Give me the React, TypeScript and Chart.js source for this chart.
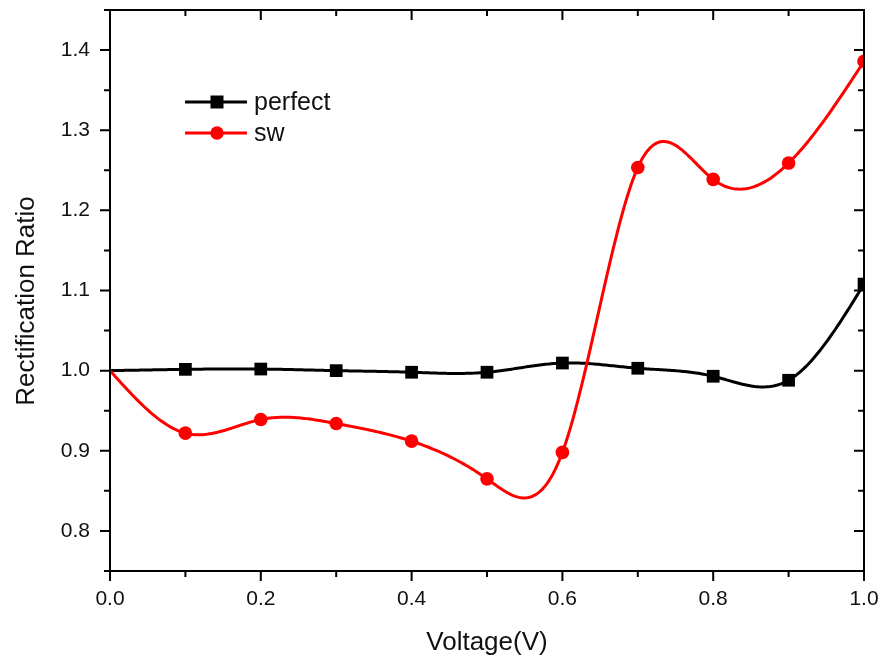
import React, { useEffect, useRef } from "react";
import { Chart, registerables } from "chart.js";
Chart.register(...registerables);

const voltage = [0, 0.1, 0.2, 0.3, 0.4, 0.5, 0.6, 0.7, 0.8, 0.9, 1.0];
const perfect = [1.0, 1.0016, 1.002, 1.0, 0.998, 0.998, 1.0095, 1.003, 0.993, 0.988, 1.108];
const sw = [1.0, 0.922, 0.939, 0.934, 0.912, 0.865, 0.898, 1.2535, 1.2386, 1.259, 1.386];

const xMajorTicks = [0, 0.2, 0.4, 0.6, 0.8, 1.0];
const xMinorTicks = [0.1, 0.3, 0.5, 0.7, 0.9];
const yMajorTicks = [0.8, 0.9, 1.0, 1.1, 1.2, 1.3, 1.4];
const yMinorTicks = [0.75, 0.85, 0.95, 1.05, 1.15, 1.25, 1.35, 1.45];

const seriesNames = ["perfect", "sw"];
const seriesColors = ["#000000", "#ff0000"];
const xTitle = "Voltage(V)";
const yTitle = "Rectification Ratio";
const FONT = "'Liberation Sans', Arial, sans-serif";

function naturalSpline(xs: number[], ys: number[]) {
  const n = xs.length;
  const h: number[] = [];
  for (let i = 0; i < n - 1; i++) h.push(xs[i + 1] - xs[i]);
  const a: number[] = new Array(n).fill(0);
  const b: number[] = new Array(n).fill(0);
  const c: number[] = new Array(n).fill(0);
  const d: number[] = new Array(n).fill(0);
  b[0] = 1; b[n - 1] = 1;
  for (let i = 1; i < n - 1; i++) {
    a[i] = h[i - 1];
    b[i] = 2 * (h[i - 1] + h[i]);
    c[i] = h[i];
    d[i] = 6 * ((ys[i + 1] - ys[i]) / h[i] - (ys[i] - ys[i - 1]) / h[i - 1]);
  }
  const cp = new Array(n).fill(0);
  const dp = new Array(n).fill(0);
  cp[0] = c[0] / b[0];
  dp[0] = d[0] / b[0];
  for (let i = 1; i < n; i++) {
    const m = b[i] - a[i] * cp[i - 1];
    cp[i] = c[i] / m;
    dp[i] = (d[i] - a[i] * dp[i - 1]) / m;
  }
  const M = new Array(n).fill(0);
  M[n - 1] = dp[n - 1];
  for (let i = n - 2; i >= 0; i--) M[i] = dp[i] - cp[i] * M[i + 1];
  return (x: number) => {
    let i = 0;
    while (i < n - 2 && x > xs[i + 1]) i++;
    const hi = h[i];
    const A = xs[i + 1] - x;
    const B = x - xs[i];
    return (
      (M[i] * A * A * A) / (6 * hi) +
      (M[i + 1] * B * B * B) / (6 * hi) +
      (ys[i] / hi - (M[i] * hi) / 6) * A +
      (ys[i + 1] / hi - (M[i + 1] * hi) / 6) * B
    );
  };
}

const splinePlugin = {
  id: "splineLines",
  beforeDatasetsDraw(chart: any) {
    const { ctx, chartArea, scales } = chart;
    const xs = scales.x;
    const ys = scales.y;
    ctx.save();
    ctx.beginPath();
    ctx.rect(chartArea.left, chartArea.top, chartArea.right - chartArea.left, chartArea.bottom - chartArea.top);
    ctx.clip();
    chart.data.datasets.forEach((ds: any, k: number) => {
      const px = ds.data.map((p: any) => p.x);
      const py = ds.data.map((p: any) => p.y);
      const f = naturalSpline(px, py);
      ctx.beginPath();
      const x0 = px[0];
      const x1 = px[px.length - 1];
      const steps = 400;
      for (let s = 0; s <= steps; s++) {
        const xv = x0 + ((x1 - x0) * s) / steps;
        const X = xs.getPixelForValue(xv);
        const Y = ys.getPixelForValue(f(xv));
        if (s === 0) ctx.moveTo(X, Y);
        else ctx.lineTo(X, Y);
      }
      ctx.strokeStyle = seriesColors[k];
      ctx.lineWidth = 3;
      ctx.lineJoin = "round";
      ctx.stroke();
    });
    ctx.restore();
  },
};

const framePlugin = {
  id: "frameTicks",
  afterDraw(chart: any) {
    const { ctx, chartArea, scales } = chart;
    const { left, right, top, bottom } = chartArea;
    const xs = scales.x;
    const ys = scales.y;
    ctx.save();
    ctx.strokeStyle = "#000";
    ctx.lineWidth = 2;
    ctx.strokeRect(left, top, right - left, bottom - top);
    const MAJ = 10;
    const MIN = 6;
    ctx.beginPath();
    xMajorTicks.forEach((v) => {
      const X = xs.getPixelForValue(v);
      ctx.moveTo(X, bottom); ctx.lineTo(X, bottom + MAJ);
      ctx.moveTo(X, top); ctx.lineTo(X, top + MAJ);
    });
    xMinorTicks.forEach((v) => {
      const X = xs.getPixelForValue(v);
      ctx.moveTo(X, bottom); ctx.lineTo(X, bottom + MIN);
      ctx.moveTo(X, top); ctx.lineTo(X, top + MIN);
    });
    yMajorTicks.forEach((v) => {
      const Y = ys.getPixelForValue(v);
      ctx.moveTo(left, Y); ctx.lineTo(left - MAJ, Y);
      ctx.moveTo(right, Y); ctx.lineTo(right - MAJ, Y);
    });
    yMinorTicks.forEach((v) => {
      const Y = ys.getPixelForValue(v);
      ctx.moveTo(left, Y); ctx.lineTo(left - MIN, Y);
      ctx.moveTo(right, Y); ctx.lineTo(right - MIN, Y);
    });
    ctx.stroke();

    ctx.fillStyle = "#111";
    ctx.font = `26px ${FONT}`;
    ctx.textAlign = "center";
    ctx.textBaseline = "alphabetic";
    ctx.fillText(xTitle, (left + right) / 2, 650);
    ctx.save();
    ctx.translate(34, 301);
    ctx.rotate(-Math.PI / 2);
    ctx.fillText(yTitle, 0, 0);
    ctx.restore();

    const lx0 = 185, lx1 = 247, lmx = 217;
    const rows = [102, 133];
    rows.forEach((ly, k) => {
      ctx.strokeStyle = seriesColors[k];
      ctx.fillStyle = seriesColors[k];
      ctx.lineWidth = 3;
      ctx.beginPath();
      ctx.moveTo(lx0, ly); ctx.lineTo(lx1, ly);
      ctx.stroke();
      ctx.beginPath();
      if (k === 0) ctx.rect(lmx - 6.5, ly - 6.5, 13, 13);
      else ctx.arc(lmx, ly, 6.7, 0, Math.PI * 2);
      ctx.fill();
      ctx.fillStyle = "#111";
      ctx.font = `25px ${FONT}`;
      ctx.textAlign = "left";
      ctx.textBaseline = "middle";
      ctx.fillText(seriesNames[k], 254, ly + 1);
    });
    ctx.restore();
  },
};

const zeroPad = (s: any) => {
  s.paddingTop = 0;
  s.paddingBottom = 0;
  s.paddingLeft = 0;
  s.paddingRight = 0;
};

export default function App() {
  const ref = useRef<HTMLCanvasElement | null>(null);
  useEffect(() => {
    if (!ref.current) return;
    const mk = (ys: number[]) => voltage.map((x, i) => ({ x, y: ys[i] }));
    const radii = voltage.map((_, i) => (i === 0 ? 0 : 1));
    const chart = new Chart(ref.current, {
      type: "scatter",
      data: {
        datasets: [
          {
            label: seriesNames[0],
            data: mk(perfect),
            showLine: false,
            pointStyle: "rect",
            pointRadius: radii.map((r) => r * 9),
            pointBackgroundColor: seriesColors[0],
            pointBorderColor: seriesColors[0],
            pointBorderWidth: 0,
            clip: 0,
          },
          {
            label: seriesNames[1],
            data: mk(sw),
            showLine: false,
            pointStyle: "circle",
            pointRadius: radii.map((r) => r * 6.8),
            pointBackgroundColor: seriesColors[1],
            pointBorderColor: seriesColors[1],
            pointBorderWidth: 0,
            clip: 0,
          },
        ],
      },
      options: {
        animation: false,
        responsive: false,
        events: [],
        layout: { padding: { left: 0, top: 10, right: 21, bottom: 0 } },
        plugins: { legend: { display: false }, tooltip: { enabled: false } },
        scales: {
          x: {
            type: "linear",
            min: 0,
            max: 1,
            grid: { display: false, drawTicks: false },
            border: { display: false },
            afterFit: (s: any) => { s.height = 90; zeroPad(s); },
            afterBuildTicks: (s: any) => { s.ticks = xMajorTicks.map((v) => ({ value: v })); },
            ticks: {
              padding: 16,
              color: "#111",
              font: { family: FONT, size: 21 },
              callback: (v: any) => Number(v).toFixed(1),
              maxRotation: 0,
            },
          },
          y: {
            type: "linear",
            min: 0.75,
            max: 1.45,
            grid: { display: false, drawTicks: false },
            border: { display: false },
            afterFit: (s: any) => { s.width = 110; zeroPad(s); },
            afterBuildTicks: (s: any) => { s.ticks = yMajorTicks.map((v) => ({ value: v })); },
            ticks: {
              padding: 20,
              color: "#111",
              font: { family: FONT, size: 21 },
              callback: (v: any) => Number(v).toFixed(1),
            },
          },
        },
      },
      plugins: [splinePlugin, framePlugin],
    } as any);
    return () => chart.destroy();
  }, []);
  return (
    <div style={{ position: "absolute", left: 0, top: 0, width: 885, height: 661, background: "#fff" }}>
      <canvas ref={ref} width={885} height={661} style={{ display: "block" }} />
    </div>
  );
}
